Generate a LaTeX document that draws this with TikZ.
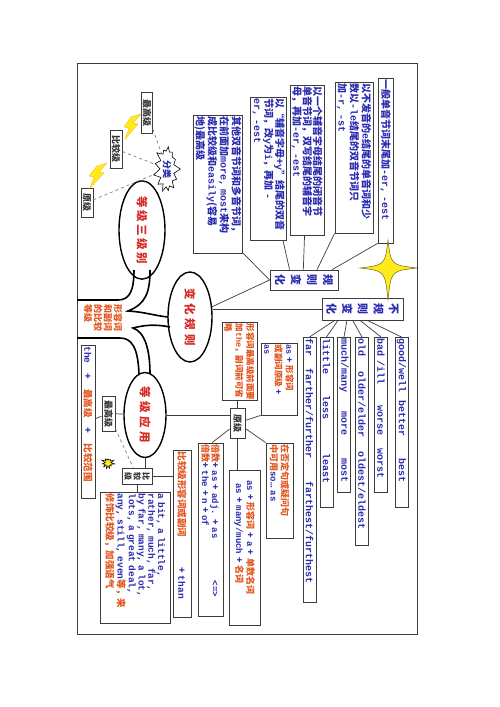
\documentclass[tikz,border=0pt]{standalone}
\usepackage{fontspec}
\newfontfamily\cjk{Noto Sans CJK SC}
\newfontfamily\mono{Liberation Mono}
\usetikzlibrary{shapes.geometric,shapes.symbols,calc}
\definecolor{ink}{HTML}{3C3C3C}
\definecolor{navy}{HTML}{2B2BB0}
\definecolor{rust}{HTML}{E2561F}
\definecolor{redink}{HTML}{D62A24}
\definecolor{bolt}{HTML}{FFEA1C}
\newcommand\en[1]{{\mono\bfseries #1}}
\newcommand\hl[1]{{\color{rust}#1}}
\tikzset{
 card/.style={draw=ink,line width=.8pt,rotate=-90,inner sep=1.5pt,align=left,text=navy,font=\cjk\bfseries\fontsize{10}{12}\selectfont},
 note/.style={card,font=\cjk\bfseries\fontsize{8.5}{10.5}\selectfont},
 tagbox/.style={draw=ink,line width=.8pt,rotate=-90,inner sep=.5pt,align=center,text=black!80,font=\cjk\bfseries\fontsize{9}{10}\selectfont},
 oval/.style={ellipse,draw=black,line width=1.4pt,rotate=-90,inner sep=1pt,fill=white,text=redink,font=\cjk\bfseries\fontsize{11.5}{12}\selectfont},
 wordcol/.style={draw=ink,line width=.8pt,rotate=-90,inner sep=1.5pt,anchor=west,align=left,minimum height=13pt,text=navy,font=\mono\bfseries\fontsize{10}{11}\selectfont},
 link/.style={draw=ink,line width=.7pt},
 hint/.style={draw=gray,line width=.7pt,dashed},
 branch/.style={draw=black,line width=1.6pt}
}
\begin{document}
\begin{tikzpicture}[x=1pt,y=-1pt]
  \useasboundingbox[fill=white] (0,0) rectangle (500,707);
  \draw[ink,line width=1pt] (77,63) rectangle (417,634);

  % regular rules
  \node[card,text width=162pt,minimum height=15pt] (plain) at (385.5,160.5) {一般单音节词末尾加\en{-er, -est}};
  \node[card,text width=148pt,minimum height=38pt] (mute) at (354,157.5) {以不发音的\en{e}结尾的单音词和少\\数以\en{-le}结尾的双音节词只\\加\en{-r, -st}};
  \node[card,text width=147pt,minimum height=31pt,font=\cjk\bfseries\fontsize{10}{10.3}\selectfont] (dbl) at (307,160) {以一个辅音字母结尾的闭音节\\单音节词，双写结尾的辅音字\\母，再加\en{-er, -est}};
  \node[card,text width=140pt,minimum height=33pt,font=\cjk\bfseries\fontsize{10}{11}\selectfont] (ytoi) at (268.5,168.5) {以“辅音字母+\en{y}”结尾的双音\\节词，改\en{y}为\en{i}，再加 \en{-}\\\en{er, -est}};
  \node[card,text width=135pt,minimum height=48pt] (long) at (218,184) {其他双音节词和多音节词，\\在前面加\en{more, most}来构\\成比较级和\en{easily}(容易\\地)最高级};

  \node[card,align=center,minimum width=20pt,minimum height=68pt,font=\cjk\bfseries\fontsize{11}{16}\selectfont] (regular) at (304,280) {规\\则\\变\\化};
  \node[card,align=center,minimum width=22pt,minimum height=81pt,font=\cjk\bfseries\fontsize{11}{15.6}\selectfont] (irregular) at (362.5,309) {不\\规\\则\\变\\化};

  % irregular words
  \node[wordcol,text width=262pt] (cfar) at (309.5,337) {\makebox[30pt][l]{far}\makebox[113pt][l]{farther/further}farthest/furthest};
  \node[wordcol,text width=167pt] (clittle) at (326.5,337) {\makebox[57pt][l]{little}\makebox[58pt][l]{less}least};
  \node[wordcol,text width=152pt] (cmuch) at (344,337) {\makebox[73pt][l]{much/many}\makebox[47pt][l]{more}most};
  \node[wordcol,text width=205pt] (cold) at (362,337) {\makebox[33pt][l]{old}\makebox[80pt][l]{older/elder}oldest/eldest};
  \node[wordcol,text width=152pt] (cbad) at (381,337) {\makebox[67pt][l]{bad /ill}\makebox[43pt][l]{worse}worst};
  \node[wordcol,text width=167pt] (cgood) at (401.5,337) {\makebox[62pt][l]{good/well}\makebox[58pt][l]{better}best};

  % the three branches
  \node[oval,minimum width=86pt,minimum height=46pt] (levels) at (142,230) {等\hspace{2.5pt}级\hspace{2.5pt}三\hspace{2.5pt}级\hspace{2.5pt}别};
  \node[oval,minimum width=90pt,minimum height=44pt] (rules) at (190,317) {变\hspace{4pt}化\hspace{4pt}规\hspace{4pt}则};
  \node[oval,minimum width=85pt,minimum height=42pt] (usage) at (145,415) {等\hspace{3.5pt}级\hspace{3.5pt}应\hspace{3.5pt}用};

  \draw[branch] (77,300) -- (118,300) .. controls (130,300) and (134,290) .. (134,270);
  \draw[branch] (150,270) .. controls (150,292) and (146,304) .. (128,311) .. controls (145,312) and (156,316) .. (168,317);
  \draw[branch] (170,327) .. controls (155,324) and (145,325) .. (133,328) .. controls (145,332) and (150,350) .. (150,374);
  \draw[branch] (77,338) -- (120,338) .. controls (132,338) and (138,348) .. (139,374);
  \node[rotate=-90,align=left,text=rust,font=\cjk\bfseries\fontsize{9}{10}\selectfont] (topic) at (103,318) {形容词\\和副词\\的比较\\等级};

  % three levels
  \node[tagbox,minimum width=41pt,minimum height=11pt] (tsup) at (147,112.5) {最高级};
  \node[tagbox,minimum width=38pt,minimum height=12pt] (tcmp) at (116,149) {比较级};
  \node[tagbox,minimum width=29pt,minimum height=12pt] (tpos) at (87,202.5) {原级};
  \node[starburst,draw=black,line width=.6pt,fill=white,rotate=-90,starburst points=13,starburst point height=7pt,random starburst=7,minimum width=50pt,minimum height=28pt,inner sep=0pt,text=navy,font=\cjk\bfseries\fontsize{9}{10}\selectfont] (kind) at (167,169) {分类};
  \fill[bolt,draw=bolt!60!orange,line width=.4pt] (141,114) -- (133,123) -- (138,124) -- (125,139) -- (129,128) -- (124,127) -- (131,117) -- cycle;
  \fill[bolt,draw=bolt!60!orange,line width=.4pt] (107,163) -- (99,172) -- (104,173) -- (90,188) -- (94,177) -- (89,176) -- (97,166) -- cycle;
  \draw[hint] (tsup) -- (kind);
  \draw[hint] (tcmp) -- (kind);
  \draw[hint] (tpos) -- (kind);

  % usage of the levels
  \node[note,text=rust,text width=75pt,minimum height=35pt,font=\cjk\bfseries\fontsize{8.5}{11}\selectfont] (supb) at (239.5,361) {形容词最高级前面要\\加\en{the}，副词前可省\\略};
  \node[note,text width=69pt,minimum height=36pt,font=\cjk\bfseries\fontsize{8.5}{11}\selectfont] (asb) at (279,379) {\en{as} + \hl{形容词}\\\hl{或副词原级} +\\\en{as}};
  \node[tagbox,minimum width=30pt,minimum height=15pt] (pos) at (237.5,423) {原级};
  \node[note,text width=170pt,minimum height=25pt,font=\cjk\bfseries\fontsize{9}{10}\selectfont] (bei) at (210.5,529.5) {\hl{倍数}+ \en{as} + \en{adj.} + \en{as}\hspace{42pt}\en{<=>}\\\hl{倍数}+ \en{the} + \en{n} + \en{of}};
  \node[note,text width=152pt,minimum height=31pt,font=\cjk\bfseries\fontsize{9}{11}\selectfont] (many) at (244.5,547.5) {\hspace*{9pt}\en{as} + \hl{形容词} + \en{a} + \hl{单数名词}\\\hspace*{12pt}\en{as} + \en{many/much} + \hl{名词}};
  \node[note,text width=92pt,minimum height=27pt,font=\cjk\bfseries\fontsize{9}{11}\selectfont] (soas) at (279.5,490.5) {\hl{在否定句或疑问句}\\\hl{中可用}\en{so… as}};
  \node[note,text width=164pt,minimum height=18pt,font=\cjk\bfseries\fontsize{9.5}{11}\selectfont] (than) at (182,533.5) {\hl{比较级形容词或副词}\hspace{30pt}+ \en{than}};
  \node[note,text width=128pt,minimum height=70pt,font=\cjk\bfseries\fontsize{9.5}{9.8}\selectfont] (list) at (135,557.5) {\en{a bit, a little,}\\\en{rather, much, far,}\\\en{by far, many, a lot,}\\\en{lots, a great deal,}\\\en{any, still, even}\hl{等，来}\\\hl{修饰比较级，加强语气}};
  \node[tagbox,minimum width=16pt,minimum height=30pt,font=\cjk\bfseries\fontsize{8}{9}\selectfont] (cmp) at (137,476) {比\\较\\级};
  \node[tagbox,minimum width=35pt,minimum height=13pt] (sup) at (108.5,413.5) {最高级};
  \node[note,text width=150pt,minimum height=14pt,font=\cjk\bfseries\fontsize{9.5}{11}\selectfont] (best) at (88,421.5) {\en{the}\hfill+\hfill\hl{最高级}\hfill+\hfill\hl{比较范围}\hspace*{15pt}};
  \node[starburst,draw=black,line width=.5pt,fill=bolt,starburst points=11,starburst point height=4pt,random starburst=3,minimum size=14pt,inner sep=0pt] (sun) at (108,463) {};

  % connectors
  \draw[link] (long.north east) -- (regular.south);
  \draw[link] (rules) -- (regular.south);
  \draw[link] (irregular.south) -- (irregular.south -| rules.north);
  \foreach \b/\f/\g in {ytoi/0.29/0.9,dbl/0.49/0.43,mute/0.69/0,plain/0.91/0}
    \draw[link] ($(regular.south west)!\f!(regular.north west)$) -- ($(\b.south east)!\g!(\b.north east)$);
  \foreach \c/\f in {cfar/0.16,clittle/0.2,cmuch/0.31,cold/0.38,cbad/0.47,cgood/0.56}
    \draw[link] ($(irregular.south east)!\f!(irregular.north east)$) -- (\c.west);

  \draw[link] (usage) -- (usage -| pos.south);
  \draw[link] (pos) -- (pos |- supb.east);
  \draw[link] (pos) -- (asb.south east);
  \draw[link] (pos) -- ($(bei.south west)!0.56!(bei.north west)$);
  \draw[link] (pos) -- (pos |- many.west);
  \draw[link] (pos) -- (soas.south west);
  \draw[link] (usage) -- (sup);
  \draw[link] (sup) -- (best);
  \draw[hint] (sup) -- (cmp);
  \draw[link] (usage) -- (usage |- cmp.west);
  \draw[link] (cmp) -- (cmp -| than.south);
  \draw[link] (cmp.east) -- (cmp.east |- list.west);

  % star
  \fill[bolt,draw=olive!70!black,line width=.5pt] (388,240) .. controls (391,265) .. (417,268) .. controls (391,271) .. (388,300) .. controls (385,271) .. (360,268) .. controls (385,265) .. (388,240) -- cycle;
\end{tikzpicture}
\end{document}
